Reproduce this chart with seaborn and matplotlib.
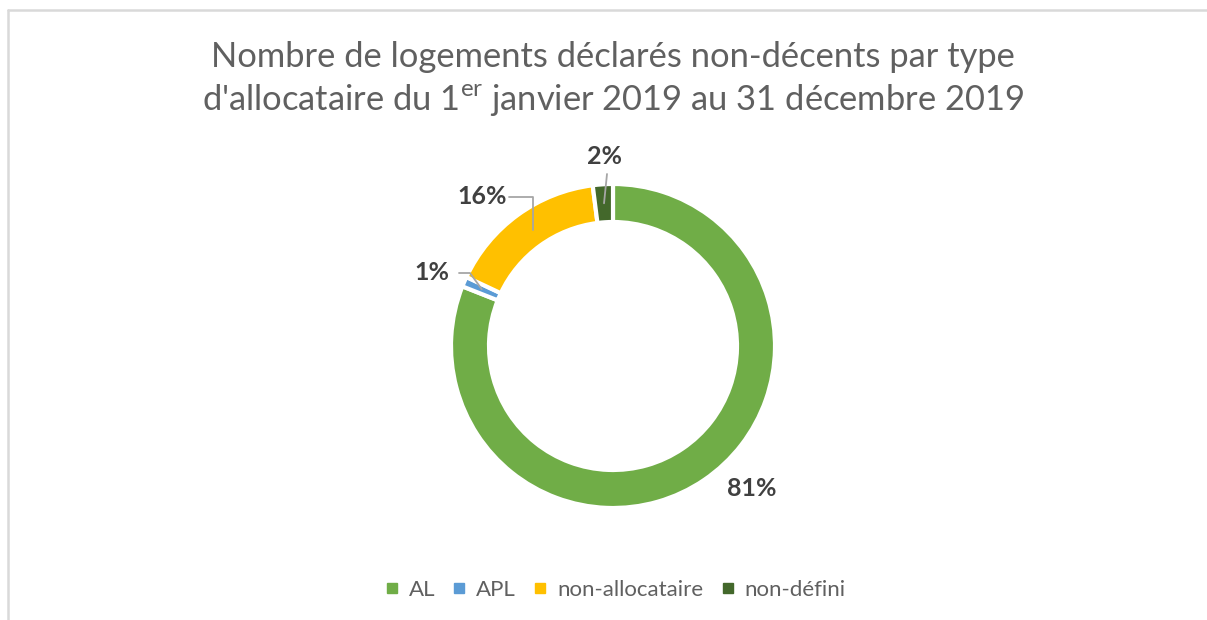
import numpy as np
import matplotlib
matplotlib.use("Agg")
import matplotlib.pyplot as plt
from matplotlib.lines import Line2D
import seaborn as sns

# ── data ─────────────────────────────────────────────────────────────────────
categories = ["AL", "APL", "non-allocataire", "non-défini"]
shares = [81, 1, 16, 2]
colors = ["#70AD47", "#5B9BD5", "#FFC000", "#43682B"]

# ── style ────────────────────────────────────────────────────────────────────
sns.set_theme(style="white")
plt.rcParams["font.family"] = ["Lato", "DejaVu Sans"]
plt.rcParams["mathtext.fontset"] = "custom"
plt.rcParams["mathtext.rm"] = "Lato"

W, H = 1207, 620
fig = plt.figure(figsize=(W / 100, H / 100), dpi=100)
fig.patch.set_facecolor("white")

# outer frame (top and left border)
border = "#d9d9d9"
fig.add_artist(Line2D([8 / W, 8 / W], [0, 1 - 10 / H], color=border, lw=1.8))
fig.add_artist(Line2D([8 / W, 1], [1 - 10 / H, 1 - 10 / H], color=border, lw=1.8))

# axes in pixel units, centred on the ring
cx, cy, R = 613, 346, 162
half = 220
ax = fig.add_axes([(cx - half) / W, (H - cy - half) / H, 2 * half / W, 2 * half / H])

ring = 38
wedges, _ = ax.pie(shares, colors=colors, radius=R, startangle=90,
                   counterclock=False,
                   wedgeprops=dict(width=ring, edgecolor="white", linewidth=3))
ax.set_xlim(-half, half)
ax.set_ylim(-half, half)
ax.set_aspect("equal")
ax.axis("off")

# ── labels ───────────────────────────────────────────────────────────────────
lab_color = "#404040"
lead = "#a6a6a6"
mid_r = R - ring / 2

def mid_point(w, r):
    a = np.deg2rad((w.theta1 + w.theta2) / 2)
    return r * np.cos(a), r * np.sin(a)

# label offsets (layout only), per slice
label_pos = {
    "AL": (139, -143),
    "APL": (-181, 73),
    "non-allocataire": (-131, 149),
    "non-défini": (-9, 190),
}
for w, cat, s in zip(wedges, categories, shares):
    tx, ty = label_pos[cat]
    ax.text(tx, ty, f"{s}%", ha="center", va="center", fontsize=18,
            fontweight="bold", color=lab_color)
    px, py = mid_point(w, mid_r)
    if cat == "APL":
        ax.plot([tx + 27, tx + 38, px], [ty, ty, py], color=lead, lw=1.3)
    elif cat == "non-allocataire":
        ax.plot([tx + 27, px + 4, px + 4], [ty, ty, py], color=lead, lw=1.3)
    elif cat == "non-défini":
        ax.plot([tx + 3, px], [ty - 18, py], color=lead, lw=1.3)

# ── title ────────────────────────────────────────────────────────────────────
title_color = "#606060"
fig.text(cx / W, 1 - 57 / H, "Nombre de logements déclarés non-décents par type",
         ha="center", va="center", fontsize=24.8, color=title_color)
fig.text(cx / W, 1 - 100 / H,
         r"d'allocataire du 1$^{\mathrm{er}}$ janvier 2019 au 31 décembre 2019",
         ha="center", va="center", fontsize=24.8, color=title_color)

# ── legend ───────────────────────────────────────────────────────────────────
handles = [Line2D([], [], marker="s", ls="", markersize=7, color=c) for c in colors]
fig.legend(handles, categories, loc="center", bbox_to_anchor=(cx / W, 1 - 590 / H),
           ncol=4, frameon=False, fontsize=16, labelcolor=title_color,
           handletextpad=0.25, columnspacing=0.6, handlelength=1.0)

fig.savefig("out.png", dpi=100, facecolor="white")
